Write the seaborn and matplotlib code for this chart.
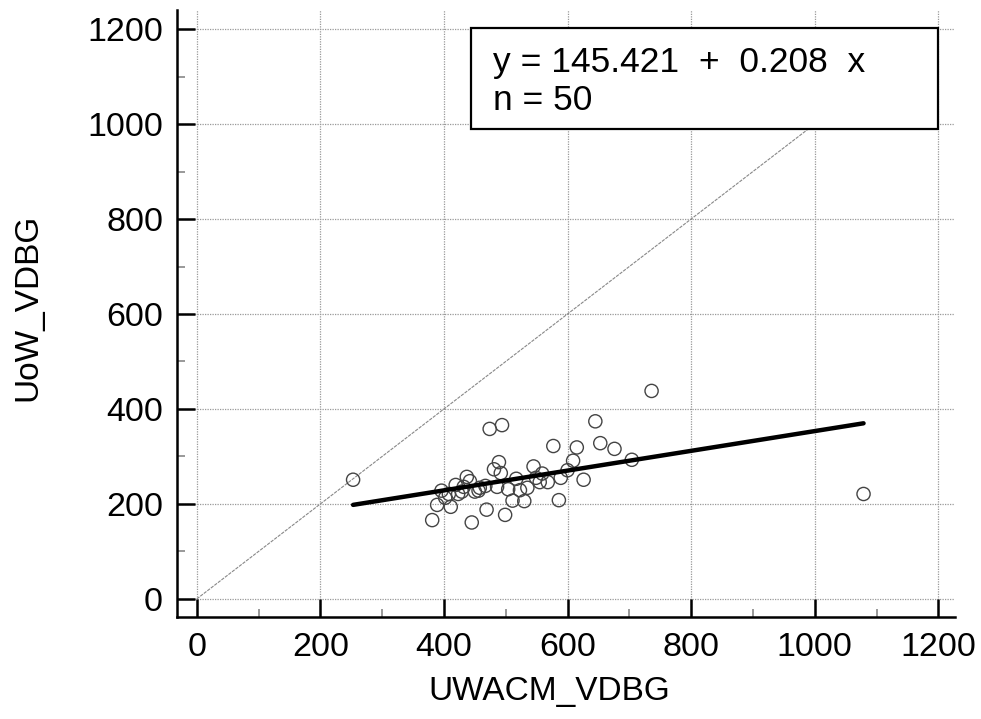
import matplotlib
matplotlib.use("Agg")
import numpy as np
import pandas as pd
import matplotlib.pyplot as plt
import seaborn as sns
from matplotlib.patches import Rectangle
from matplotlib.ticker import MultipleLocator

# Data
uwacm = [253, 381, 389, 396, 402, 411, 419, 423, 429, 437,
         442, 445, 450, 456, 467, 469, 474, 494, 489, 481,
         492, 499, 504, 511, 517, 523, 530, 535, 545, 559,
         555, 568, 577, 586, 600, 609, 615, 626, 645, 653,
         676, 704, 736, 1079, 408, 432, 458, 486, 549, 589]
uow = [251, 166, 198, 228, 213, 194, 240, 221, 226, 257,
       248, 161, 226, 228, 238, 188, 358, 366, 288, 273,
       265, 177, 231, 207, 253, 229, 206, 234, 279, 264,
       246, 246, 322, 208, 271, 291, 319, 251, 374, 328,
       316, 293, 438, 221, 221, 236, 234, 236, 255, 255]

intercept = 145.421
slope = 0.208
ticks = [0, 200, 400, 600, 800, 1000, 1200]

df = pd.DataFrame({"UWACM_VDBG": uwacm, "UoW_VDBG": uow})

sns.set_style("white")
plt.rcParams["font.family"] = ["Liberation Sans", "DejaVu Sans"]
plt.rcParams["text.color"] = "black"
plt.rcParams["axes.labelcolor"] = "black"
plt.rcParams["xtick.color"] = "black"
plt.rcParams["ytick.color"] = "black"

fig = plt.figure(figsize=(9.81, 7.19), dpi=100)
ax = fig.add_axes([0.1804, 0.1419, 0.7931, 0.8441])

ax.set_xlim(-32, 1227)
ax.set_ylim(-38, 1240)

# grid
for t in ticks:
    ax.axvline(t, color="#999999", lw=0.9, ls=(0, (1, 1)), zorder=0)
    ax.axhline(t, color="#999999", lw=0.9, ls=(0, (1, 1)), zorder=0)

# identity line
ax.plot([0, 1200], [0, 1200], color="#888888", lw=0.8, ls=(0, (3, 1)), zorder=1)

sns.scatterplot(
    data=df,
    x="UWACM_VDBG",
    y="UoW_VDBG",
    ax=ax,
    s=90,
    facecolor="none",
    edgecolor="#444444",
    linewidth=1.0,
    zorder=3
)

# regression line
xr = np.array([min(uwacm), max(uwacm)])
ax.plot(xr, intercept + slope * xr, color="black", lw=3.2, zorder=4)

# equation box
ax.add_patch(Rectangle((444, 989), 756, 213, facecolor="white",
                       edgecolor="black", lw=1.6, zorder=5))
ax.text(479, 1130, f"y = {intercept:.3f}  +  {slope:.3f}  x", fontsize=25.5,
        va="center", ha="left", zorder=6)
ax.text(479, 1050, f"n = {len(uwacm)}", fontsize=25.5,
        va="center", ha="left", zorder=6)

ax.set_xticks(ticks)
ax.set_yticks(ticks)
ax.xaxis.set_minor_locator(MultipleLocator(100))
ax.yaxis.set_minor_locator(MultipleLocator(100))
ax.tick_params(which="both", bottom=True, left=True, top=False, right=False)
ax.tick_params(which="major", direction="in", length=13, width=1.8,
               labelsize=24.5, color="black")
ax.tick_params(axis="x", which="major", pad=11)
ax.tick_params(axis="y", which="major", pad=10)
ax.tick_params(which="minor", direction="in", length=6, width=1.2,
               color="#888888")

for s in ["top", "right"]:
    ax.spines[s].set_visible(False)
for s in ["left", "bottom"]:
    ax.spines[s].set_linewidth(1.8)
    ax.spines[s].set_color("black")

ax.set_xlabel("UWACM_VDBG", fontsize=24)
ax.set_ylabel("UoW_VDBG", fontsize=24)
ax.xaxis.set_label_coords(0.478, -0.098)
ax.yaxis.set_label_coords(-0.172, 0.51)

fig.savefig("out.png", dpi=100)
